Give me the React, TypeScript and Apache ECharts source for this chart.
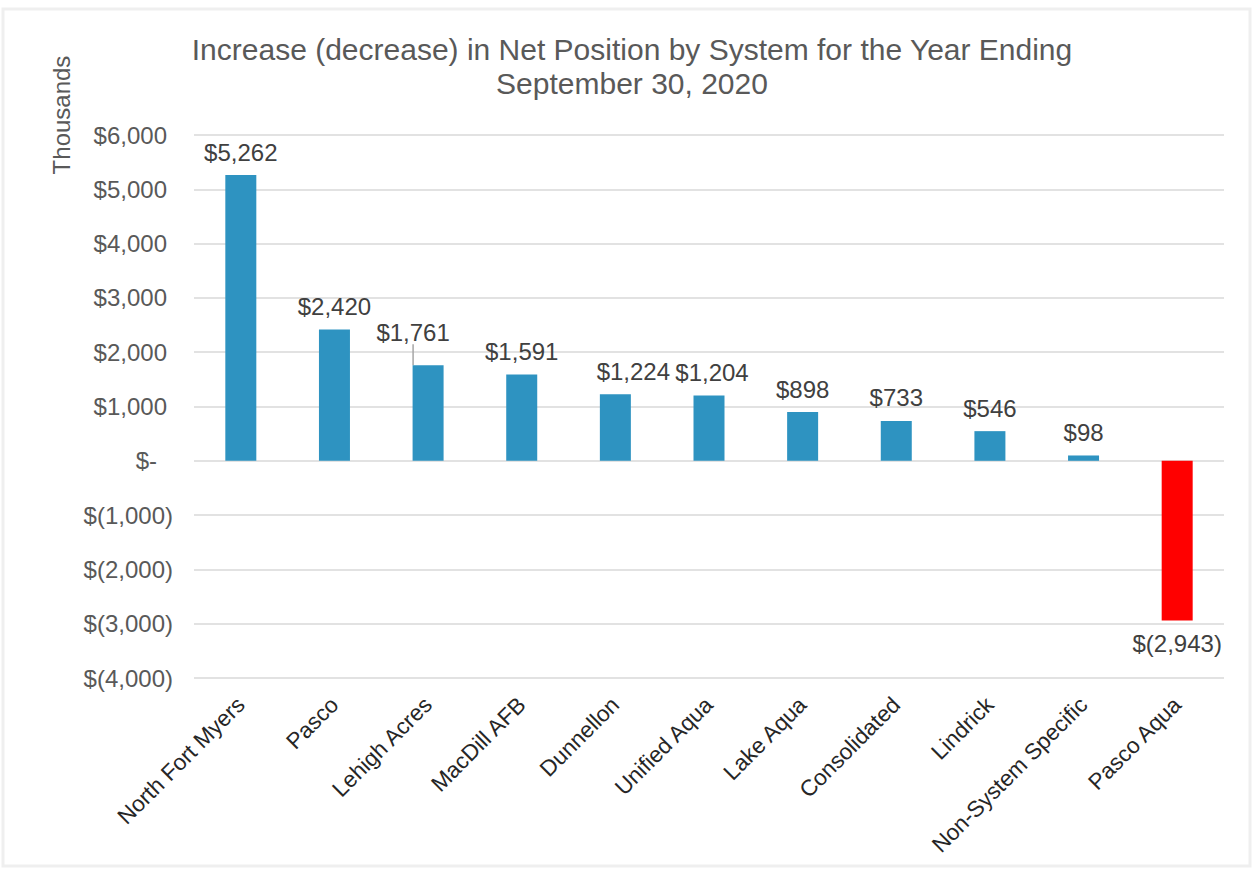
import React, { useEffect, useRef } from "react";
import * as echarts from "echarts";

const categories = [
  "North Fort Myers",
  "Pasco",
  "Lehigh Acres",
  "MacDill AFB",
  "Dunnellon",
  "Unified Aqua",
  "Lake Aqua",
  "Consolidated",
  "Lindrick",
  "Non-System Specific",
  "Pasco Aqua",
];
const values = [5262, 2420, 1761, 1591, 1224, 1204, 898, 733, 546, 98, -2943];
const yTicks = { min: -4000, max: 6000, interval: 1000 };
const titleText =
  "Increase (decrease) in Net Position by System for the Year Ending\nSeptember 30, 2020";
const yName = "Thousands";

const FONT = "'Liberation Sans', Arial, sans-serif";

function money(v: number): string {
  if (v === 0) return "$-";
  const s = Math.abs(v).toLocaleString("en-US");
  return v < 0 ? `$(${s})` : `$${s}`;
}

export default function App() {
  const ref = useRef<HTMLDivElement>(null);
  useEffect(() => {
    if (!ref.current) return;
    const chart = echarts.init(ref.current, undefined, { renderer: "svg" });
    const data = values.map((v, i) => {
      const item: any = {
        value: v,
        itemStyle: { color: v < 0 ? "#FF0000" : "#2E93C1" },
      };
      if (v < 0) item.label = { position: "bottom" };
      if (i === 2) item.labelLine = { show: true, lineStyle: { color: "#a6a6a6", width: 1.5 } };
      return item;
    });
    const shifts: Record<number, { dx: number; dy: number }> = {
      2: { dx: -15, dy: -10 },
      4: { dx: 18, dy: 0 },
      5: { dx: 3, dy: 0 },
    };
    chart.setOption({
      animation: false,
      backgroundColor: "#ffffff",
      title: {
        text: titleText,
        left: 627,
        textAlign: "center",
        top: 27,
        textStyle: {
          fontFamily: FONT,
          fontSize: 30,
          fontWeight: "normal",
          color: "#595959",
          lineHeight: 34,
        },
      },
      graphic: [
        {
          type: "rect",
          shape: { x: 3, y: 9, width: 1247, height: 857 },
          style: { fill: "none", stroke: "#efefef", lineWidth: 3 },
          silent: true,
        },
        {
          type: "text",
          x: 61,
          y: 115,
          rotation: Math.PI / 2,
          style: {
            text: yName,
            fontFamily: FONT,
            fontSize: 24,
            fill: "#595959",
            align: "center",
            verticalAlign: "middle",
          },
        },
      ],
      grid: { left: 194, right: 31, top: 135, bottom: 193 },
      xAxis: {
        type: "category",
        data: categories,
        axisLine: { show: false },
        axisTick: { show: false },
        axisLabel: {
          interval: 0,
          rotate: 45,
          margin: 23,
          fontFamily: FONT,
          fontSize: 22.5,
          color: "#262626",
        },
      },
      yAxis: {
        type: "value",
        min: yTicks.min,
        max: yTicks.max,
        interval: yTicks.interval,
        axisLine: { show: false },
        axisTick: { show: false },
        splitLine: { lineStyle: { color: "#d9d9d9", width: 1.5 } },
        axisLabel: {
          margin: 21,
          formatter: (v: number) =>
            v === 0 ? `{z|${money(v)}}` : v > 0 ? `{p|${money(v)}}` : `{n|${money(v)}}`,
          rich: {
            p: { fontFamily: FONT, fontSize: 24, color: "#595959", padding: [0, 6, 0, 0] },
            n: { fontFamily: FONT, fontSize: 24, color: "#595959" },
            z: { fontFamily: FONT, fontSize: 24, color: "#595959", padding: [0, 16, 0, 0] },
          },
        },
      },
      series: [
        {
          type: "bar",
          data,
          barWidth: 31,
          label: {
            show: true,
            position: "top",
            distance: 11,
            fontFamily: FONT,
            fontSize: 24,
            color: "#404040",
            formatter: (p: any) => money(p.value),
          },
          labelLayout: (p: any) => shifts[p.dataIndex] || {},
        },
      ],
    });
    return () => chart.dispose();
  }, []);
  return (
    <div
      ref={ref}
      style={{ position: "absolute", left: 0, top: 0, width: 1255, height: 871 }}
    />
  );
}
